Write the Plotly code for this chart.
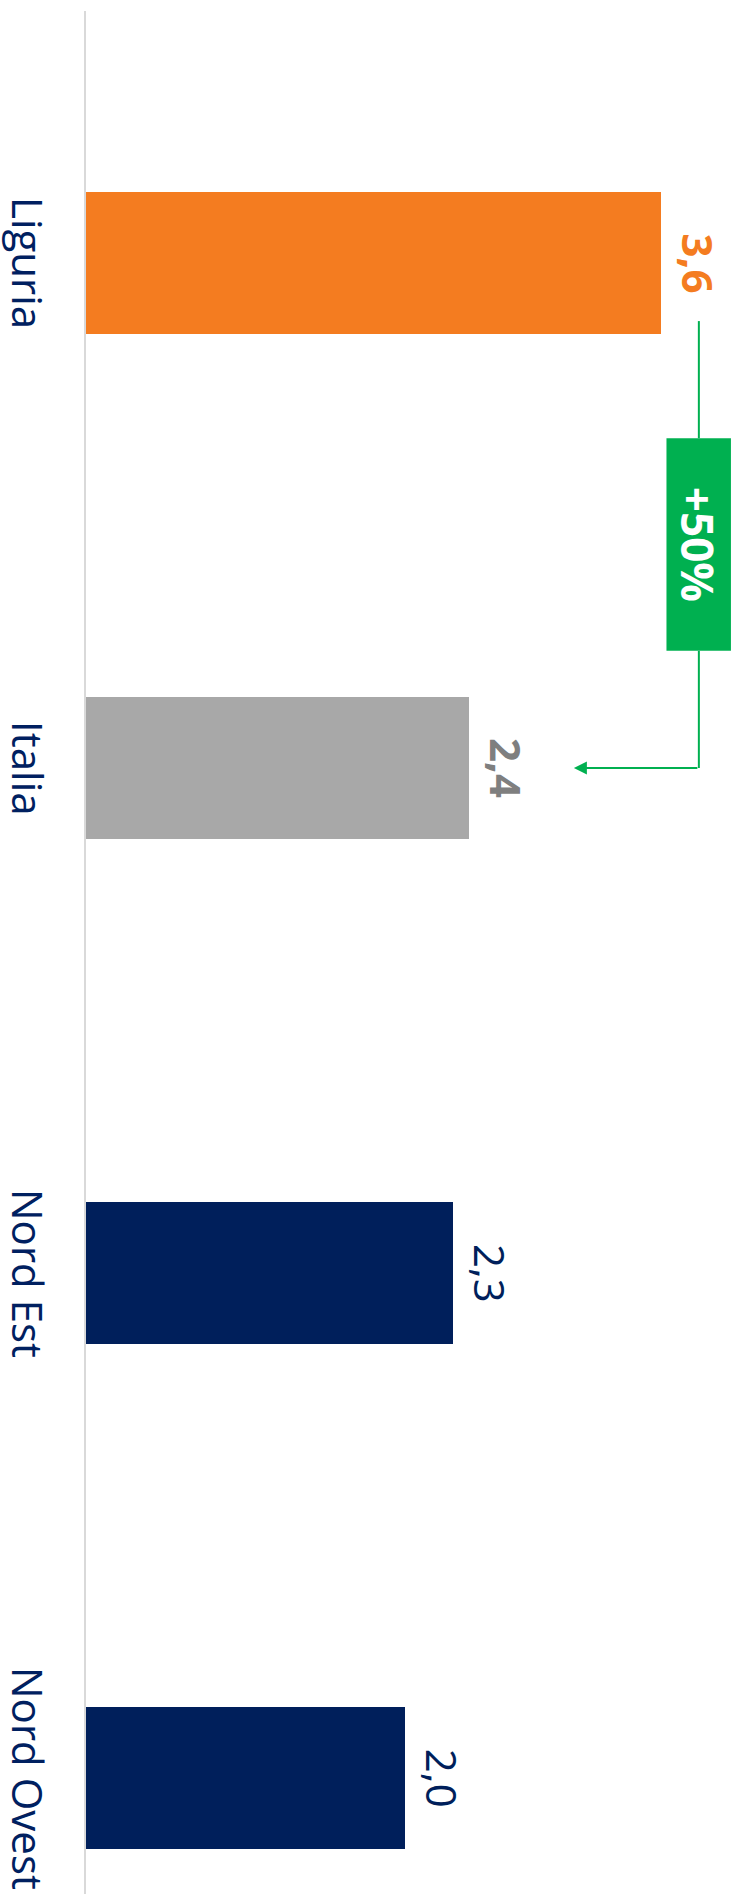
import plotly.graph_objects as go

categories = ["Liguria", "Italia", "Nord Est", "Nord Ovest"]
values = [3.6, 2.4, 2.3, 2.0]
value_labels = ["3,6", "2,4", "2,3", "2,0"]
bar_colors = ["#F47C20", "#A8A8A8", "#001F5B", "#001F5B"]
label_colors = ["#F47C20", "#7F7F7F", "#001F5B", "#001F5B"]
label_weights = ["bold", "bold", "normal", "normal"]

W, H = 741, 1894
ML, MT = 86, 11
px_per_unit = 159.6
band = 505.0
first_center = 263.0

pos = list(range(len(categories)))
x_max = (W - ML) / px_per_unit
y_top = (MT - first_center) / band
y_bot = (len(categories) - 1) + (H - (first_center + band * (len(categories) - 1))) / band

FONT = "Open Sans"

fig = go.Figure()
fig.add_trace(go.Bar(
    x=values, y=pos, orientation="h", width=0.283,
    marker=dict(color=bar_colors, line=dict(width=0)),
    hoverinfo="skip",
))

annotations = []
for i, (cat, v, lab, col, wt) in enumerate(zip(categories, values, value_labels, label_colors, label_weights)):
    annotations.append(dict(
        x=0, xref="paper", y=i, yref="y", text=cat, showarrow=False,
        textangle=90, xanchor="center", yanchor="middle", xshift=-57,
        font=dict(family=FONT, size=42, color="#002060"),
    ))
    annotations.append(dict(
        x=v, xref="x", y=i, yref="y", text=lab, showarrow=False,
        textangle=90, xanchor="center", yanchor="middle", xshift=38,
        font=dict(family=FONT, size=42, color=col, weight=wt),
    ))

# comparison connector Liguria -> Italia
pct = round((values[0] / values[1] - 1) * 100)
cx = values[0] + 0.24
box_x0, box_x1 = values[0] + 0.037, values[0] + 0.441
box_y0, box_y1 = 0.347, 0.768
tip_x = values[1] + 0.657

shapes = [
    dict(type="line", xref="x", yref="y", x0=cx, x1=cx, y0=0.115, y1=box_y0,
         line=dict(color="#00B050", width=2)),
    dict(type="line", xref="x", yref="y", x0=cx, x1=cx, y0=box_y1, y1=1.0,
         line=dict(color="#00B050", width=2)),
    dict(type="rect", xref="x", yref="y", x0=box_x0, x1=box_x1, y0=box_y0, y1=box_y1,
         fillcolor="#00B050", line=dict(width=0)),
]
annotations.append(dict(
    x=tip_x, y=1.0, xref="x", yref="y", ax=cx, ay=1.0, axref="x", ayref="y",
    text="", showarrow=True, arrowhead=2, arrowsize=1.3, arrowwidth=2, arrowcolor="#00B050",
))
annotations.append(dict(
    x=(box_x0 + box_x1) / 2, y=(box_y0 + box_y1) / 2, xref="x", yref="y",
    text=f"+{pct}%", showarrow=False, textangle=90, xanchor="center", yanchor="middle",
    font=dict(family=FONT, size=44, color="white", weight="bold"),
))

fig.update_layout(
    width=W, height=H, autosize=False,
    margin=dict(l=ML, r=0, t=MT, b=0, pad=0),
    paper_bgcolor="white", plot_bgcolor="white",
    showlegend=False, bargap=0,
    xaxis=dict(range=[0, x_max], showgrid=False, zeroline=False, showticklabels=False,
               ticks="", showline=False, fixedrange=True),
    yaxis=dict(range=[y_bot, y_top], showgrid=False, zeroline=False, showticklabels=False,
               ticks="", showline=True, linecolor="#D9D9D9", linewidth=2, fixedrange=True),
    annotations=annotations, shapes=shapes,
)

fig.write_html("out.html", config={"displayModeBar": False},
               post_script="document.body.style.margin='0';document.body.style.overflow='hidden';")
